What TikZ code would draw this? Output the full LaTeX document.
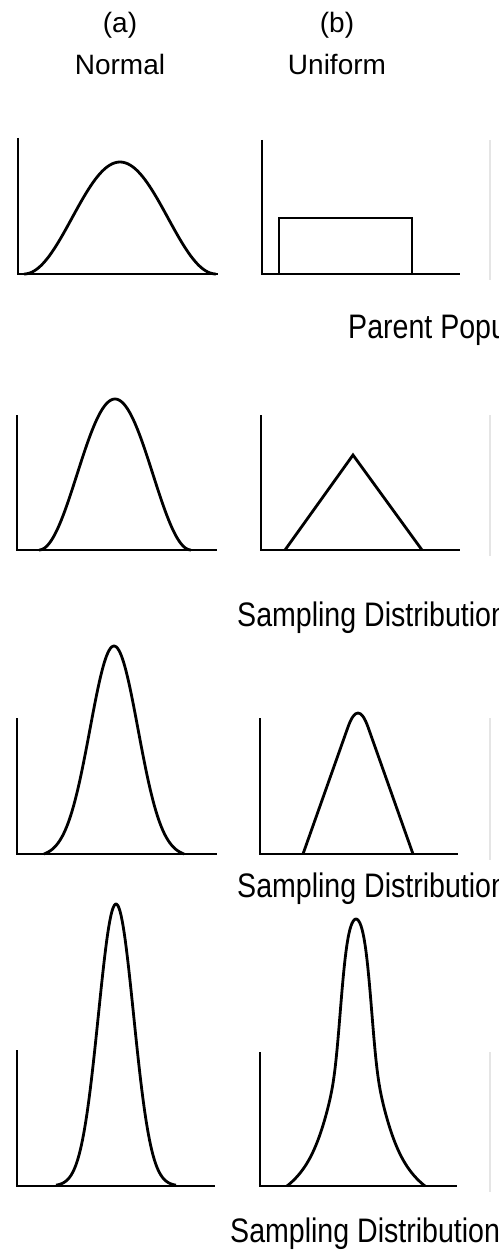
\documentclass[tikz,border=0pt]{standalone}
\usepackage{fontspec}
\setmainfont{Liberation Sans}
\begin{document}
\begin{tikzpicture}[x=1pt,y=-1pt,
  axis/.style={line width=2.3pt,line join=miter,black},
  curve/.style={line width=2.8pt,line join=round,black},
  faint/.style={line width=1.2pt,black!10},
  head/.style={inner sep=0pt,anchor=base,font=\fontsize{28}{30}\selectfont},
  rowlab/.style={inner sep=0pt,anchor=base west,font=\fontsize{34}{36}\selectfont}]
\path[use as bounding box] (0,0) rectangle (498,1252);
\clip (0,0) rectangle (498,1252);

% headers
\node[head] (hA) at (120,33) {(a)};
\node[head] (nA) at (120,75) {Normal};
\node[head] (hB) at (337,33) {(b)};
\node[head] (nB) at (337,75) {Uniform};

% row 1: parent populations
\draw[axis] (18,138) -- (18,274) -- (218,274);
\draw[curve] plot[domain=-96:96,samples=90] ({120+\x},{274-56*(1+cos((\x/96)*180))});
\draw[axis] (262,140) -- (262,274) -- (460,274);
\draw[curve,line join=miter] (279,274) -- (279,218) -- (412,218) -- (412,274);
\draw[faint] (490,140) -- (490,280);
\node[rowlab] (l1) at (348,338) {\scalebox{0.84}[1]{Parent Population}};

% row 2
\draw[axis] (17,415) -- (17,550) -- (217,550);
\draw[curve] plot[domain=-76:76,samples=90] ({115+\x},{550-75.5*(1+cos((\x/76)*180))});
\draw[axis] (261,415) -- (261,550) -- (460,550);
\draw[curve,line join=miter] (285,550) -- (353,455) -- (422,550);
\draw[faint] (490,415) -- (490,556);
\node[rowlab] (l2) at (237,626) {\scalebox{0.84}[1]{Sampling Distribution}};

% row 3
\draw[axis] (17,718) -- (17,854) -- (217,854);
\draw[curve] plot[domain=-70:70,samples=100] ({114+\x},{854-208*(exp(-((\x/10)*(\x/10))/11.52)-0.014)/0.986});
\draw[axis] (260,718) -- (260,854) -- (458,854);
\draw[curve] (303,854) -- (348,727) .. controls (354.7,708.3) and (361.3,708.3) .. (368,727) -- (413,854);
\draw[faint] (490,718) -- (490,860);
\node[rowlab] (l3) at (237,897) {\scalebox{0.84}[1]{Sampling Distribution}};

% row 4
\draw[axis] (17,1050) -- (17,1186) -- (215,1186);
\draw[curve] plot[domain=-60:60,samples=110] ({116+\x},{1186-282*exp(-((\x/10)*(\x/10))/6.195)});
\draw[axis] (260,1052) -- (260,1186) -- (457,1186);
\draw[curve] plot[domain=-69:69,samples=139]
  ({356+\x},{1186-267*(0.31*exp(-min(((\x/17)*(\x/17))*((\x/17)*(\x/17)),9))
     + 0.69/cosh(\x/19) - 0.0366*(\x/69)*(\x/69))});
\draw[faint] (490,1052) -- (490,1192);
\node[rowlab] (l4) at (230,1242) {\scalebox{0.84}[1]{Sampling Distribution}};
\end{tikzpicture}
\end{document}
